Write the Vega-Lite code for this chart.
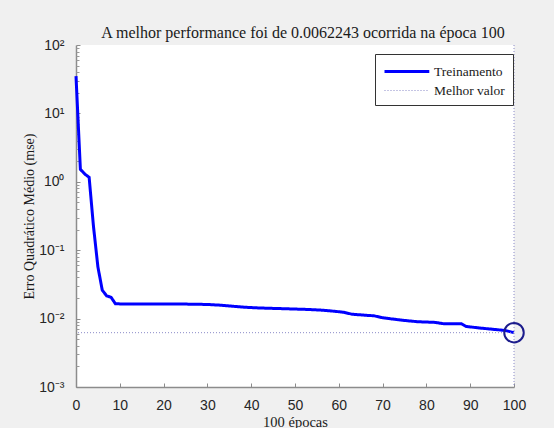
{
  "$schema": "https://vega.github.io/schema/vega-lite/v6.json",
  "width": 438,
  "height": 342,
  "autosize": {"type": "none"},
  "padding": {"left": 76, "top": 45, "right": 40, "bottom": 41},
  "background": "#f0f0f0",
  "view": {"fill": "white", "stroke": null},
  "title": {
    "text": "A melhor performance foi de 0.0062243 ocorrida na época 100",
    "font": "Liberation Serif",
    "fontSize": 16,
    "fontWeight": "normal",
    "color": "#1a1a1a",
    "offset": -3,
    "dx": 8,
    "anchor": "middle"
  },
  "config": {
    "axis": {
      "grid": false,
      "domainColor": "#8c8c8c",
      "domainWidth": 1.5,
      "tickColor": "#8c8c8c",
      "tickSize": -4,
      "labelFlush": false,
      "labelFont": "Liberation Sans",
      "labelFontSize": 14,
      "labelColor": "#262626",
      "titleFont": "Liberation Serif",
      "titleFontSize": 14.5,
      "titleFontWeight": "normal",
      "titleColor": "#1a1a1a"
    }
  },
  "resolve": {"axis": {"y": "independent"}},
  "datasets": {
    "train": [
      {"epoca": 0, "mse": 35, "serie": "Treinamento"},
      {"epoca": 1, "mse": 1.52, "serie": "Treinamento"},
      {"epoca": 2, "mse": 1.3, "serie": "Treinamento"},
      {"epoca": 3, "mse": 1.16, "serie": "Treinamento"},
      {"epoca": 4, "mse": 0.22, "serie": "Treinamento"},
      {"epoca": 5, "mse": 0.057, "serie": "Treinamento"},
      {"epoca": 6, "mse": 0.026, "serie": "Treinamento"},
      {"epoca": 7, "mse": 0.0215, "serie": "Treinamento"},
      {"epoca": 8, "mse": 0.0205, "serie": "Treinamento"},
      {"epoca": 9, "mse": 0.0165, "serie": "Treinamento"},
      {"epoca": 10, "mse": 0.0164, "serie": "Treinamento"},
      {"epoca": 15, "mse": 0.0164, "serie": "Treinamento"},
      {"epoca": 20, "mse": 0.0163, "serie": "Treinamento"},
      {"epoca": 25, "mse": 0.0163, "serie": "Treinamento"},
      {"epoca": 30, "mse": 0.0161, "serie": "Treinamento"},
      {"epoca": 33, "mse": 0.0157, "serie": "Treinamento"},
      {"epoca": 36, "mse": 0.0151, "serie": "Treinamento"},
      {"epoca": 39, "mse": 0.0146, "serie": "Treinamento"},
      {"epoca": 42, "mse": 0.0143, "serie": "Treinamento"},
      {"epoca": 45, "mse": 0.0141, "serie": "Treinamento"},
      {"epoca": 50, "mse": 0.0138, "serie": "Treinamento"},
      {"epoca": 53, "mse": 0.0136, "serie": "Treinamento"},
      {"epoca": 56, "mse": 0.0133, "serie": "Treinamento"},
      {"epoca": 59, "mse": 0.0128, "serie": "Treinamento"},
      {"epoca": 61, "mse": 0.0124, "serie": "Treinamento"},
      {"epoca": 63, "mse": 0.0116, "serie": "Treinamento"},
      {"epoca": 66, "mse": 0.0112, "serie": "Treinamento"},
      {"epoca": 68, "mse": 0.011, "serie": "Treinamento"},
      {"epoca": 70, "mse": 0.0103, "serie": "Treinamento"},
      {"epoca": 72, "mse": 0.0099, "serie": "Treinamento"},
      {"epoca": 75, "mse": 0.0094, "serie": "Treinamento"},
      {"epoca": 78, "mse": 0.009, "serie": "Treinamento"},
      {"epoca": 80, "mse": 0.0089, "serie": "Treinamento"},
      {"epoca": 82, "mse": 0.0088, "serie": "Treinamento"},
      {"epoca": 84, "mse": 0.0084, "serie": "Treinamento"},
      {"epoca": 88, "mse": 0.0084, "serie": "Treinamento"},
      {"epoca": 89, "mse": 0.0077, "serie": "Treinamento"},
      {"epoca": 92, "mse": 0.0073, "serie": "Treinamento"},
      {"epoca": 95, "mse": 0.007, "serie": "Treinamento"},
      {"epoca": 98, "mse": 0.0067, "serie": "Treinamento"},
      {"epoca": 100, "mse": 0.0062243, "serie": "Treinamento"}
    ],
    "best": [
      {"epoca": 100, "mse": 0.0062243, "serie": "Melhor valor"}
    ]
  },
  "layer": [
    {
      "data": {"name": "train"},
      "mark": {"type": "line", "strokeJoin": "miter"},
      "encoding": {
        "x": {
          "field": "epoca",
          "type": "quantitative",
          "scale": {"domain": [0, 100], "nice": false},
          "axis": {"values": [0, 10, 20, 30, 40, 50, 60, 70, 80, 90, 100], "title": "100 épocas", "labelPadding": 15, "titlePadding": 3}
        },
        "y": {
          "field": "mse",
          "type": "quantitative",
          "scale": {"type": "log", "domain": [0.001, 100], "nice": false},
          "axis": {
            "orient": "left",
            "values": [0.001, 0.01, 0.1, 1, 10, 100],
            "labelExpr": "'10' + ['⁻³','⁻²','⁻¹','⁰','¹','²'][round(log(datum.value)/LN10) + 3]",
            "title": "Erro Quadrático Médio (mse)",
            "titleFontSize": 14,
            "labelPadding": 16,
            "titlePadding": 2
          }
        },
        "color": {
          "field": "serie",
          "type": "nominal",
          "scale": {"domain": ["Treinamento", "Melhor valor"], "range": ["#0000ff", "#8a8ac8"]},
          "legend": {
            "title": null,
            "orient": "none",
            "legendX": 299,
            "legendY": 9,
            "symbolType": "M-1,0H4.6",
            "symbolSize": 256,
            "labelFont": "Liberation Serif",
            "labelFontSize": 13.5,
            "labelColor": "#1a1a1a",
            "fillColor": "white",
            "strokeColor": "#333333",
            "padding": 8,
            "rowPadding": 4,
            "labelOffset": 32
          }
        },
        "strokeDash": {
          "field": "serie",
          "type": "nominal",
          "scale": {"domain": ["Treinamento", "Melhor valor"], "range": [[1, 0], [1, 2]]},
          "legend": {"title": null}
        },
        "strokeWidth": {
          "field": "serie",
          "type": "nominal",
          "scale": {"domain": ["Treinamento", "Melhor valor"], "range": [3, 1]},
          "legend": {"title": null}
        }
      }
    },
    {
      "data": {"name": "best"},
      "mark": {"type": "rule"},
      "encoding": {
        "x": {"field": "epoca", "type": "quantitative"},
        "color": {"field": "serie", "type": "nominal"},
        "strokeDash": {"field": "serie", "type": "nominal"},
        "strokeWidth": {"field": "serie", "type": "nominal"}
      }
    },
    {
      "data": {"name": "best"},
      "mark": {"type": "rule"},
      "encoding": {
        "x": {"field": "epoca", "type": "quantitative"},
        "x2": {"datum": 0},
        "y": {"field": "mse", "type": "quantitative", "axis": null},
        "color": {"field": "serie", "type": "nominal"},
        "strokeDash": {"field": "serie", "type": "nominal"},
        "strokeWidth": {"field": "serie", "type": "nominal"}
      }
    },
    {
      "data": {"name": "best"},
      "mark": {"type": "point", "shape": "circle", "filled": false, "size": 380, "strokeWidth": 2, "color": "#1c1c8c", "opacity": 1},
      "encoding": {
        "x": {"field": "epoca", "type": "quantitative"},
        "y": {
          "field": "mse",
          "type": "quantitative",
          "axis": {
            "orient": "left",
            "values": [0.002, 0.003, 0.004, 0.005, 0.006, 0.007, 0.008, 0.009, 0.02, 0.03, 0.04, 0.05, 0.06, 0.07, 0.08, 0.09, 0.2, 0.3, 0.4, 0.5, 0.6, 0.7, 0.8, 0.9, 2, 3, 4, 5, 6, 7, 8, 9, 20, 30, 40, 50, 60, 70, 80, 90],
            "labels": false,
            "domain": false,
            "title": null,
            "tickSize": -3,
            "tickColor": "#9a9a9a",
            "tickWidth": 1
          }
        }
      }
    }
  ]
}
